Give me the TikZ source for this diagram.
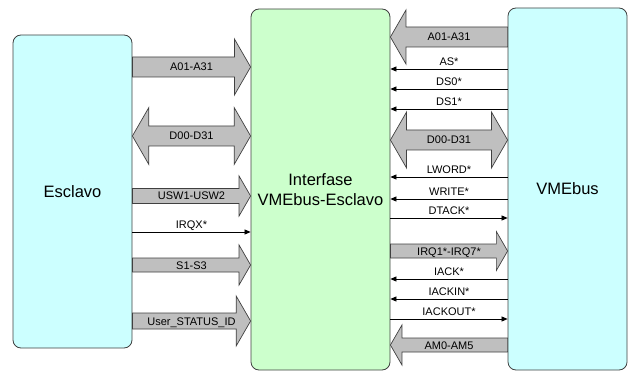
\documentclass[tikz,border=0pt]{standalone}
\usepackage{fontspec}
\setmainfont{Liberation Sans}
\usetikzlibrary{calc,arrows.meta}

\definecolor{boxcyan}{HTML}{CCFFFF}
\definecolor{boxgreen}{HTML}{CCFFCC}
\definecolor{edgegray}{HTML}{404040}

% fat bus arrow: from, to, y, half shaft, half head, label
\newcommand\busone[6]{%
  \draw[bus] let \p1=(#1 |- 0,#3), \p2=(#2 |- 0,#3), \n1={sign(\x2-\x1)*#5*0.577} in
    ({\x1},{\y1+#4pt}) -- ({\x2-(\n1)},{\y1+#4pt}) -- ({\x2-(\n1)},{\y1+#5pt})
    -- ({\x2},{\y1}) -- ({\x2-(\n1)},{\y1-#5pt}) -- ({\x2-(\n1)},{\y1-#4pt})
    -- ({\x1},{\y1-#4pt}) -- cycle
    node[lbl] at ({(\x1+\x2)/2},{\y1}) {#6};}
% same, with a head at both ends
\newcommand\bustwo[6]{%
  \draw[bus] let \p1=(#1 |- 0,#3), \p2=(#2 |- 0,#3), \n1={sign(\x2-\x1)*#5*0.577} in
    ({\x1},{\y1}) -- ({\x1+(\n1)},{\y1+#5pt}) -- ({\x1+(\n1)},{\y1+#4pt})
    -- ({\x2-(\n1)},{\y1+#4pt}) -- ({\x2-(\n1)},{\y1+#5pt}) -- ({\x2},{\y1})
    -- ({\x2-(\n1)},{\y1-#5pt}) -- ({\x2-(\n1)},{\y1-#4pt}) -- ({\x1+(\n1)},{\y1-#4pt})
    -- ({\x1+(\n1)},{\y1-#5pt}) -- cycle
    node[lbl] at ({(\x1+\x2)/2},{\y1}) {#6};}

\begin{document}
\begin{tikzpicture}[x=1pt, y=-1pt]
   \tikzstyle{blk}=[draw=edgegray, line width=0.8pt, rounded corners=8pt, align=center, font=\fontsize{16.5}{20}\selectfont]
   \tikzstyle{bus}=[draw=edgegray, line width=0.7pt, fill=gray!50]
   \tikzstyle{sig}=[draw=black, line width=0.7pt, -{Triangle[length=6pt, width=5pt]}]
   \tikzstyle{lbl}=[inner sep=0pt, text height=8pt, text depth=0pt, font=\fontsize{11}{12}\selectfont]

\useasboundingbox (0,0) rectangle (628,371);

\node[blk, fill=boxcyan, minimum width=119pt, minimum height=313pt] (esc) at (72.5,191.5) {Esclavo};
\node[blk, fill=boxgreen, minimum width=139pt, minimum height=361pt] (ifc) at (320.5,189.5) {Interfase\\VMEbus-Esclavo};
\node[blk, fill=boxcyan, minimum width=119pt, minimum height=362pt] (vme) at (567.5,189) {VMEbus};

% Esclavo -> interfase
\busone{esc.east}{ifc.west}{67}{10}{28}{A01-A31}
\bustwo{esc.east}{ifc.west}{136}{10}{28.5}{D00-D31}
\busone{esc.east}{ifc.west}{196}{7.5}{20}{USW1-USW2}
\draw[sig] (esc.east |- 0,232) -- (ifc.west |- 0,232) node[lbl, midway, above=3pt] {IRQX*};
\busone{esc.east}{ifc.west}{265}{7}{20}{S1-S3}
\busone{esc.east}{ifc.west}{321}{8}{25}{User\_STATUS\_ID}

% VMEbus <-> interfase
\busone{vme.west}{ifc.east}{37}{10}{27}{A01-A31}
\bustwo{ifc.east}{vme.west}{140}{10}{28}{D00-D31}
\busone{ifc.east}{vme.west}{251}{7}{19.5}{IRQ1*-IRQ7*}
\busone{vme.west}{ifc.east}{345}{7}{20}{AM0-AM5}
\foreach \y/\t in {69/AS*, 89/DS0*, 109/DS1*, 177/LWORD*, 199/WRITE*, 279/IACK*, 299/IACKIN*}
    \draw[sig] (vme.west |- 0,\y) -- (ifc.east |- 0,\y) node[lbl, midway, above=3pt] {\t};
\foreach \y/\t in {218/DTACK*, 319/IACKOUT*}
    \draw[sig] (ifc.east |- 0,\y) -- (vme.west |- 0,\y) node[lbl, midway, above=3pt] {\t};

\end{tikzpicture}
\end{document}
